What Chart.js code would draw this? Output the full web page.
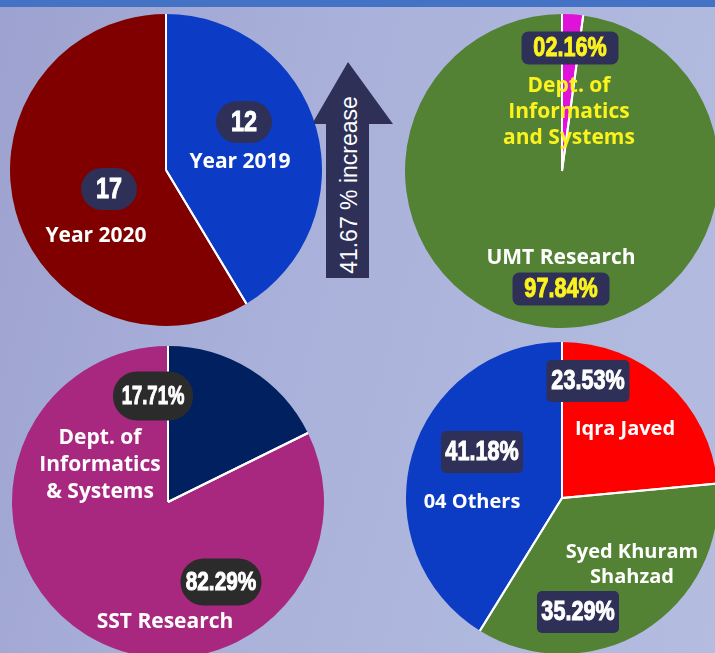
<!DOCTYPE html>
<html>
<head>
<meta charset="utf-8">
<script src="https://cdn.jsdelivr.net/npm/chart.js@4.4.0/dist/chart.umd.min.js"></script>
<style>
  html, body { margin: 0; padding: 0; }
  body {
    width: 715px; height: 653px; overflow: hidden; position: relative;
    background: linear-gradient(105deg, #9da1cf 0%, #a9b1da 40%, #b4bde0 100%);
  }
  #topbar { position: absolute; left: 0; top: 0; width: 715px; height: 7px; background: #4472c4; }
  .pie { position: absolute; }
  #arrow { position: absolute; left: 0; top: 0; }
</style>
</head>
<body>
<div id="topbar"></div>
<svg id="arrow" width="715" height="653">
  <polygon points="348,62 393,124 369,124 369,278 326,278 326,124 312,124" fill="#2e3057"/>
  <text id="increaseText" transform="translate(357,185) rotate(-90)" text-anchor="middle"
        fill="#ffffff" font-family="Liberation Sans, Arial, sans-serif" font-size="23"></text>
</svg>
<div class="pie" style="left:10px; top:14px;"><canvas id="yearPie" width="312" height="312"></canvas></div>
<div class="pie" style="left:405px; top:14px;"><canvas id="umtPie" width="314" height="314"></canvas></div>
<div class="pie" style="left:12px; top:346px;"><canvas id="sstPie" width="312" height="312"></canvas></div>
<div class="pie" style="left:406px; top:342px;"><canvas id="authorPie" width="312" height="312"></canvas></div>

<script>
// data
const yearLabels = ['Year 2019', 'Year 2020'];
const yearCounts = [12, 17];
const yearColors = ['#0c3cc6', '#800000'];

const umtLabels = ['Dept. of\nInformatics\nand Systems', 'UMT Research'];
const umtShares = [2.16, 97.84];
const umtColors = ['#e011d8', '#548235'];

const sstLabels = ['Dept. of\nInformatics\n& Systems', 'SST Research'];
const sstShares = [17.71, 82.29];
const sstColors = ['#002060', '#a8287f'];

const authorLabels = ['Iqra Javed', 'Syed Khuram\nShahzad', '04 Others'];
const authorShares = [23.53, 35.29, 41.18];
const authorColors = ['#ff0000', '#548235', '#0c3bc4'];

const increaseText = '41.67 % increase';
document.getElementById('increaseText').textContent = increaseText;

// label placement, offsets from the pie centre
const NAVY = '#2e3057', INK = '#2b2b2b', YEL = '#fbf21e', WHITE = '#ffffff';
const labelLayout = {
  yearPie: [
    { box: [78, -48, 56, 42, 21], boxColor: NAVY, valColor: WHITE, name: [74, -8], nameColor: WHITE, size: 21, valSize: 30, valScale: 0.78 },
    { box: [-57, 19, 56, 42, 21], boxColor: NAVY, valColor: WHITE, name: [-70, 66], nameColor: WHITE, size: 21, valSize: 30, valScale: 0.78 }
  ],
  umtPie: [
    { box: [8, -123, 97, 33, 7], boxColor: NAVY, valColor: YEL, name: [7, -85], nameColor: YEL, size: 21 },
    { box: [-1, 118, 97, 33, 7], boxColor: NAVY, valColor: YEL, name: [-1, 87], nameColor: WHITE, size: 21 }
  ],
  sstPie: [
    { box: [-15, -106, 80, 49, 24], boxColor: INK, valColor: WHITE, name: [-68, -64], nameColor: WHITE, size: 21, lh: 27, valSize: 25, valScale: 0.74 },
    { box: [53, 80, 81, 47, 23], boxColor: INK, valColor: WHITE, name: [-3, 120], nameColor: WHITE, size: 21, valSize: 26 }
  ],
  authorPie: [
    { box: [26, -117, 83, 42, 5], boxColor: NAVY, valColor: WHITE, name: [63, -69], nameColor: WHITE, size: 20 },
    { box: [16, 114, 82, 42, 5], boxColor: NAVY, valColor: WHITE, name: [70, 54], nameColor: WHITE, size: 20 },
    { box: [-80, -46, 82, 42, 5], boxColor: NAVY, valColor: WHITE, name: [-90, 4], nameColor: WHITE, size: 20 }
  ]
};

const pct = v => v.toFixed(2).padStart(5, '0') + '%';
const valueFormat = {
  yearPie: v => String(v),
  umtPie: pct,
  sstPie: pct,
  authorPie: pct
};

function roundBox(ctx, x, y, w, h, r) {
  ctx.beginPath();
  ctx.moveTo(x + r, y);
  ctx.lineTo(x + w - r, y);
  ctx.arcTo(x + w, y, x + w, y + r, r);
  ctx.lineTo(x + w, y + h - r);
  ctx.arcTo(x + w, y + h, x + w - r, y + h, r);
  ctx.lineTo(x + r, y + h);
  ctx.arcTo(x, y + h, x, y + h - r, r);
  ctx.lineTo(x, y + r);
  ctx.arcTo(x, y, x + r, y, r);
  ctx.closePath();
}

// white separators between slices (no outer rim)
const sliceLines = {
  id: 'sliceLines',
  afterDatasetsDraw(chart) {
    const ctx = chart.ctx;
    ctx.save();
    ctx.strokeStyle = '#ffffff';
    ctx.lineWidth = 2;
    chart.getDatasetMeta(0).data.forEach(arc => {
      const p = arc.getProps(['x', 'y', 'startAngle', 'endAngle', 'outerRadius']);
      [p.startAngle, p.endAngle].forEach(a => {
        ctx.beginPath();
        ctx.moveTo(p.x, p.y);
        ctx.lineTo(p.x + Math.cos(a) * p.outerRadius, p.y + Math.sin(a) * p.outerRadius);
        ctx.stroke();
      });
    });
    ctx.restore();
  }
};

const sliceLabels = {
  id: 'sliceLabels',
  afterDraw(chart) {
    const id = chart.canvas.id;
    const layout = labelLayout[id];
    const fmt = valueFormat[id];
    const ctx = chart.ctx;
    const ds = chart.data.datasets[0];
    chart.getDatasetMeta(0).data.forEach((arc, i) => {
      const L = layout[i];
      const cx = arc.x, cy = arc.y;
      // value box
      const [bx, by, bw, bh, br] = L.box;
      ctx.save();
      ctx.fillStyle = L.boxColor;
      roundBox(ctx, cx + bx - bw / 2, cy + by - bh / 2, bw, bh, br);
      ctx.fill();
      const vs = L.valSize || 27, sc = L.valScale || 0.8;
      ctx.translate(cx + bx, cy + by + 1);
      ctx.scale(sc, 1);
      ctx.font = 'bold ' + vs + 'px "Liberation Sans", Arial, sans-serif';
      ctx.fillStyle = L.valColor;
      ctx.strokeStyle = L.valColor;
      ctx.lineWidth = 1;
      ctx.textAlign = 'center';
      ctx.textBaseline = 'middle';
      const txt = fmt(ds.data[i]);
      ctx.fillText(txt, 0, 0);
      ctx.strokeText(txt, 0, 0);
      ctx.restore();
      // category name
      const lines = chart.data.labels[i].split('\n');
      const lh = L.lh || L.size * 1.25;
      ctx.save();
      ctx.font = 'bold ' + L.size + 'px "Open Sans", "Noto Sans", sans-serif';
      ctx.fillStyle = L.nameColor;
      ctx.textAlign = 'center';
      ctx.textBaseline = 'middle';
      lines.forEach((t, k) => ctx.fillText(t, cx + L.name[0], cy + L.name[1] + k * lh));
      ctx.restore();
    });
  }
};

function makePie(id, labels, values, colors) {
  return new Chart(document.getElementById(id), {
    type: 'pie',
    data: {
      labels: labels,
      datasets: [{ data: values, backgroundColor: colors, borderWidth: 0, hoverOffset: 0, offset: 0 }]
    },
    options: {
      responsive: false,
      animation: false,
      layout: { padding: 0 },
      plugins: {
        legend: { display: false },
        tooltip: { enabled: false }
      }
    },
    plugins: [sliceLines, sliceLabels]
  });
}

makePie('yearPie', yearLabels, yearCounts, yearColors);
makePie('umtPie', umtLabels, umtShares, umtColors);
makePie('sstPie', sstLabels, sstShares, sstColors);
makePie('authorPie', authorLabels, authorShares, authorColors);
</script>
</body>
</html>
